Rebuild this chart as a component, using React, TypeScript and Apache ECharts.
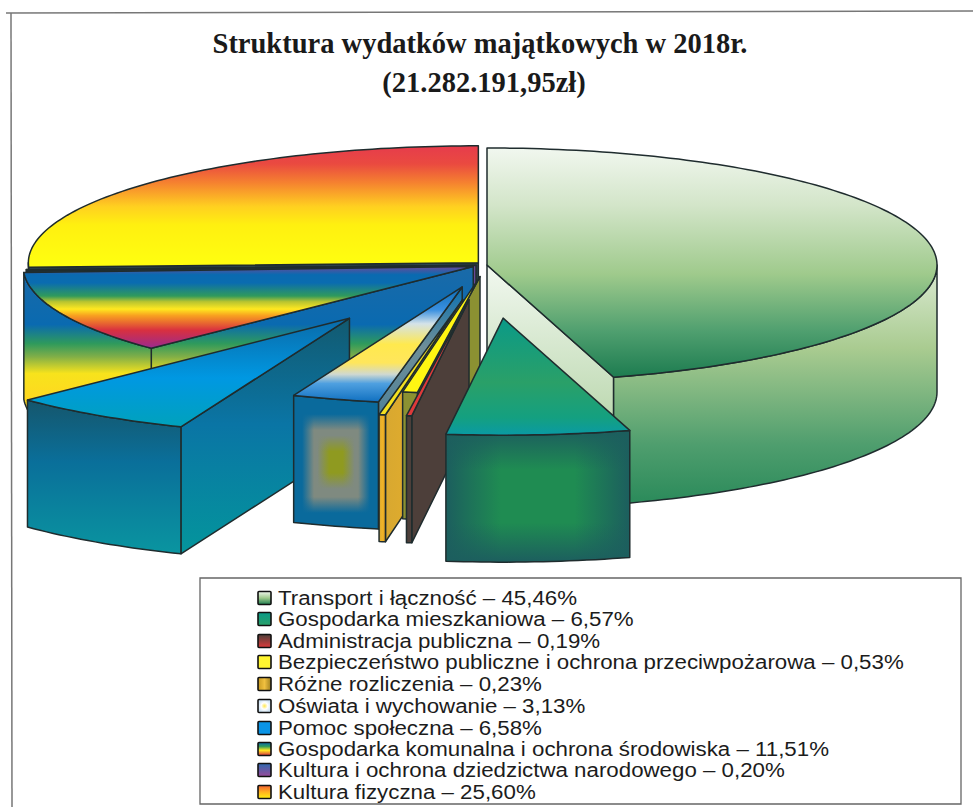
import React, { useEffect, useRef } from "react";
import * as echarts from "echarts";

const titleLines = ["Struktura wydatków majątkowych w 2018r.", "(21.282.191,95zł)"];
const categories = [
  "Transport i łączność",
  "Gospodarka mieszkaniowa",
  "Administracja publiczna",
  "Bezpieczeństwo publiczne i ochrona przeciwpożarowa",
  "Różne rozliczenia",
  "Oświata i wychowanie",
  "Pomoc społeczna",
  "Gospodarka komunalna i ochrona środowiska",
  "Kultura i ochrona dziedzictwa narodowego",
  "Kultura fizyczna",
];
const percentLabels = ["45,46%", "6,57%", "0,19%", "0,53%", "0,23%", "3,13%", "6,58%", "11,51%", "0,20%", "25,60%"];
const values = [45.46, 6.57, 0.19, 0.53, 0.23, 3.13, 6.58, 11.51, 0.2, 25.6];

// pie explosion per slice, in radius-axis pixels
const explode = [0, 205, 135, 45, 135, 88, 247, 15, 11, 12];
const drawOrder = [9, 8, 7, 6, 5, 4, 3, 2, 0, 1];

const CX = 487, CY = 265, RX = 450, RY = 117, H = 127;
const total = values.reduce((a, b) => a + b, 0);

const LG = (stops: [number, string][], dir: "v" | "h" = "v") =>
  new echarts.graphic.LinearGradient(0, 0, dir === "h" ? 1 : 0, dir === "v" ? 1 : 0,
    stops.map(([offset, color]) => ({ offset, color })));
const GLOBAL_V = (y0: number, y1: number, stops: [number, string][]) =>
  new echarts.graphic.LinearGradient(0, y0, 0, y1, stops.map(([offset, color]) => ({ offset, color })), true);

const komWall: [number, string][] = [
  [0, "#1a6aa8"], [0.27, "#0a6ab0"], [0.36, "#2f9a5c"], [0.42, "#7fae48"], [0.5, "#f7e31c"], [0.62, "#ffd820"], [1, "#ffc820"],
];
const edgeFade = (color: string, e: number, a: number, b: number, f: number, dir: "h" | "v") => {
  const t = color + "00";
  return LG([[0, color], [e, color], [a, t], [b, t], [f, color], [1, color]], dir);
};

const top: any[] = [
  LG([[0, "#f1f7ef"], [0.25, "#d3e5c9"], [0.55, "#9fca8c"], [0.8, "#4f9f6f"], [1, "#1d7c50"]]),
  LG([[0, "#0a9a88"], [0.55, "#2aa068"], [0.85, "#14a080"], [1, "#0a9aa4"]]),
  "#dd3a3a",
  "#fff512",
  "#f4e020",
  LG([[0, "#0a6cb4"], [0.2, "#3a90e0"], [0.32, "#d4e2e8"], [0.5, "#ffe94e"], [0.66, "#ffe65c"], [0.76, "#cfd8d0"], [0.84, "#4fa0e0"], [1, "#1070c0"]]),
  LG([[0, "#0a6aa8"], [0.55, "#0098e2"], [1, "#00a2bc"]]),
  LG([[0, "#6a4a9a"], [0.1, "#0a6ab0"], [0.2, "#0a6cb0"], [0.36, "#2f9a5c"], [0.43, "#b8c430"], [0.52, "#ffe820"], [0.6, "#f8a020"], [0.78, "#d83040"], [1, "#9a2a90"]]),
  LG([[0, "#2f4a52"], [1, "#2f4a52"]]),
  LG([[0, "#e63c4c"], [0.15, "#ea4a40"], [0.3, "#f58030"], [0.5, "#ffd020"], [0.65, "#fff010"], [1, "#ffff10"]]),
];
const outerWall: any[][] = [
  [LG([[0, "#dcebd4"], [0.35, "#a9cb90"], [0.75, "#4f9e6e"], [1, "#2a8a5a"]])],
  ["#1f8c52", edgeFade("#1c5e5e", 0, 0.3, 0.7, 1, "h"), edgeFade("#1c5e5e", 0, 0.3, 0.7, 1, "v")],
  ["#4d3f3a"],
  ["#8b9132"],
  [LG([[0, "#d8a830"], [0.5, "#f0b428"], [1, "#e0a020"]], "h")],
  [
    "#8f9a20",
    edgeFade("#7f8a80", 0.28, 0.42, 0.58, 0.72, "h"),
    edgeFade("#7f8a80", 0.3, 0.42, 0.58, 0.7, "v"),
    edgeFade("#0a6a9c", 0.1, 0.24, 0.76, 0.9, "h"),
    edgeFade("#0a6a9c", 0.14, 0.26, 0.76, 0.88, "v"),
  ],
  [LG([[0, "#15566c"], [0.4, "#0a6f9a"], [1, "#0a95a0"]])],
  [GLOBAL_V(267, 480, komWall)],
  ["#2f4a52"],
  ["#2f4a52"],
];
const radialWall: any[] = [
  LG([[0, "#f2f8f0"], [1, "#9fc78d"]]),
  "#1c5e5e",
  "#4d3f3a",
  "#8b9132",
  LG([[0, "#d8a830"], [1, "#f0b428"]], "h"),
  LG([[0, "#0a70b0"], [0.25, "#6f8f98"], [1, "#1a6a9a"]]),
  LG([[0, "#125a70"], [0.45, "#0a75a5"], [1, "#04959c"]]),
  GLOBAL_V(267, 480, komWall),
  LG([[0, "#2f4a52"], [0.85, "#3f4a72"], [1, "#6a4a9a"]], "h"),
  "#2f4a52",
];
const swatches: any[] = [
  LG([[0, "#f1f7ef"], [0.5, "#9fca8c"], [1, "#1d7c50"]]),
  LG([[0, "#0a9a88"], [1, "#2aa068"]]),
  LG([[0, "#4d3f3a"], [1, "#dd3a3a"]]),
  "#fff530",
  LG([[0, "#c89a20"], [0.5, "#f0c040"], [1, "#a08020"]], "h"),
  new echarts.graphic.RadialGradient(0.5, 0.5, 0.5, [{ offset: 0, color: "#ffe94e" }, { offset: 0.5, color: "#ffffff" }, { offset: 1, color: "#cfe4f4" }]),
  "#0a94e6",
  LG([[0, "#0a6ab0"], [0.3, "#2f9a5c"], [0.6, "#ffe820"], [1, "#d83040"]]),
  LG([[0, "#2f6ab0"], [1, "#9a4a9a"]]),
  LG([[0, "#f06032"], [0.5, "#ffb020"], [1, "#fff010"]]),
];

const STROKE = "#1f2c2e";

function sliceChildren(i: number) {
  let acc = 0;
  for (let k = 0; k < i; k++) acc += values[k];
  const a0 = (acc / total) * 2 * Math.PI;
  const a1 = ((acc + values[i]) / total) * 2 * Math.PI;
  const mid = (a0 + a1) / 2;
  const ax = CX + explode[i] * Math.sin(mid);
  const ay = CY - (explode[i] * RY) / RX * Math.cos(mid);
  const at = (a: number): number[] => [ax + RX * Math.sin(a), ay - RY * Math.cos(a)];
  const down = (p: number[]) => [p[0], p[1] + H];
  const arc = (from: number, to: number) => {
    const n = Math.max(2, Math.ceil(Math.abs(to - from) / 0.02));
    const pts: number[][] = [];
    for (let k = 0; k <= n; k++) pts.push(at(from + ((to - from) * k) / n));
    return pts;
  };
  const children: any[] = [];
  const poly = (points: number[][], fill: any, stroke = true) =>
    children.push({ type: "polygon", shape: { points }, style: { fill, stroke: stroke ? STROKE : "none", lineWidth: 1.5, lineJoin: "round" } });
  const apex = [ax, ay];
  // radial walls
  if (a1 <= Math.PI + 1e-6) {
    const p = at(a1);
    poly([apex, p, down(p), down(apex)], radialWall[i]);
  }
  if (a0 >= Math.PI - 1e-6) {
    const p = at(a0);
    poly([apex, p, down(p), down(apex)], radialWall[i]);
  }
  // outer front wall
  const f0 = Math.max(a0, Math.PI / 2);
  const f1 = Math.min(a1, 1.5 * Math.PI);
  if (f1 > f0) {
    const pts = arc(f0, f1);
    const wall = [...pts, ...pts.slice().reverse().map(down)];
    outerWall[i].forEach((fill) => poly(wall, fill, false));
    poly(wall, "rgba(0,0,0,0)");
  }
  // top face
  poly([apex, ...arc(a0, a1)], top[i]);
  return children;
}

export default function App() {
  const ref = useRef<HTMLDivElement>(null);
  useEffect(() => {
    const chart = echarts.init(ref.current!, null, { renderer: "svg" });
    const rowY = [598, 619, 641, 662, 684, 706, 728, 749, 770, 792];
    const legendGraphics: any[] = [];
    categories.forEach((c, i) => {
      legendGraphics.push({
        type: "rect", shape: { x: 258, y: rowY[i] - 6.5, width: 13, height: 13, r: 1 },
        style: { fill: swatches[i], stroke: "#111", lineWidth: 1.6 },
      });
      legendGraphics.push({
        type: "text", x: 278, y: rowY[i], scaleX: 1.115,
        style: { text: `${c} – ${percentLabels[i]}`, font: '20px "Liberation Sans"', fill: "#1c1c1c", verticalAlign: "middle" },
      });
    });
    chart.setOption({
      animation: false,
      backgroundColor: "#ffffff",
      series: [{
        type: "custom",
        coordinateSystem: "none",
        silent: true,
        data: drawOrder.map((i) => [i, values[i]]),
        renderItem: (_p: any, api: any) => ({ type: "group", children: sliceChildren(api.value(0)) }),
      }],
      graphic: [
        { type: "line", shape: { x1: 6, y1: 13, x2: 973, y2: 11 }, style: { stroke: "#777", lineWidth: 1.5 } },
        { type: "line", shape: { x1: 11, y1: 13, x2: 12, y2: 807 }, style: { stroke: "#777", lineWidth: 1.5 } },
        { type: "rect", shape: { x: 200, y: 578, width: 761, height: 226 }, style: { fill: "none", stroke: "#666", lineWidth: 1.3 } },
        { type: "text", x: 480, y: 43, style: { text: titleLines[0], font: 'bold 28.5px "Liberation Serif"', fill: "#1a1a1a", align: "center", verticalAlign: "middle" } },
        { type: "text", x: 484, y: 82, style: { text: titleLines[1], font: 'bold 28.5px "Liberation Serif"', fill: "#1a1a1a", align: "center", verticalAlign: "middle" } },
        ...legendGraphics,
      ],
    });
    return () => chart.dispose();
  }, []);
  return <div ref={ref} style={{ position: "absolute", left: 0, top: 0, width: 973, height: 807 }} />;
}
